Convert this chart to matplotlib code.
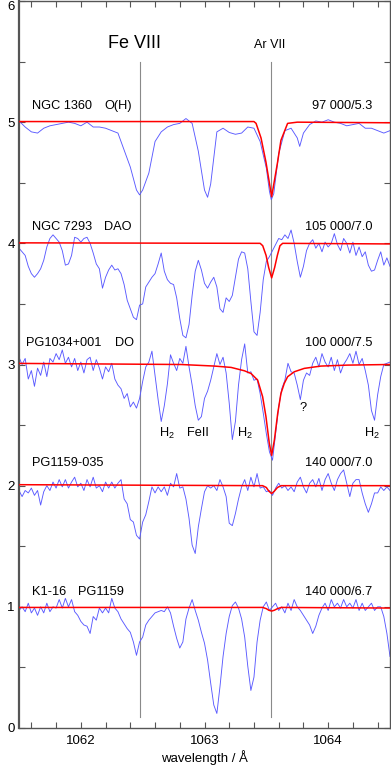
import numpy as np
import matplotlib
matplotlib.use("Agg")
import matplotlib.pyplot as plt
from matplotlib.ticker import MultipleLocator

plt.rcParams['font.family'] = ['Liberation Sans', 'DejaVu Sans']
plt.rcParams['mathtext.fontset'] = 'custom'
plt.rcParams['mathtext.rm'] = 'Liberation Sans'

# ---------------- data ----------------
fe8_wave = 1062.48
ar7_wave = 1063.54

# common sampling grid of the observed spectra (0.025 A)
wave = np.round(1061.5 + 0.025 * np.arange(121), 4)

# NGC 1360 (offset 4)
wave1360 = [1061.50, 1061.55, 1061.60, 1061.65, 1061.70, 1061.75, 1061.80, 1061.85, 1061.90, 1061.95,
            1062.00, 1062.05, 1062.10, 1062.15, 1062.20, 1062.25, 1062.30, 1062.35, 1062.40, 1062.45,
            1062.475,
            1062.50, 1062.55, 1062.60, 1062.65, 1062.70, 1062.75, 1062.80, 1062.85, 1062.90, 1062.95, 1063.00,
            1063.025,
            1063.05, 1063.10, 1063.15, 1063.20, 1063.25, 1063.30, 1063.35, 1063.40, 1063.45, 1063.50,
            1063.525, 1063.54, 1063.56,
            1063.60, 1063.65, 1063.70, 1063.75,
            1063.77,
            1063.80, 1063.85, 1063.90, 1063.95, 1064.00, 1064.05, 1064.10, 1064.15, 1064.20, 1064.25,
            1064.30, 1064.35, 1064.40, 1064.45, 1064.50]
flux1360 = [1.01, 0.96, 0.92, 0.91, 0.95, 0.97, 0.98, 0.99, 1.00, 0.99,
            0.97, 1.00, 0.96, 0.96, 0.95, 0.93, 0.91, 0.77, 0.63, 0.44,
            0.40,
            0.44, 0.58, 0.84, 0.92, 0.96, 0.98, 0.99, 1.03, 0.99, 0.76, 0.44,
            0.38,
            0.49, 0.92, 0.95, 0.915, 0.90, 0.91, 0.96, 0.95, 0.84, 0.62,
            0.43, 0.36, 0.41,
            0.74, 0.93, 0.95, 0.87,
            0.80,
            0.91, 0.98, 1.01, 1.00, 1.02, 1.00, 0.99, 0.97, 0.98, 0.99,
            0.95, 0.95, 0.93, 0.91, 0.93]

flux7293 = [0.96, 0.93, 0.90, 0.81, 0.75, 0.72, 0.75, 0.79, 0.86, 0.97,
            1.04, 1.07, 1.04, 1.01, 0.94, 0.82, 0.83, 0.90, 1.05, 1.04,
            1.01, 1.04, 1.05, 1.00, 0.92, 0.83, 0.79, 0.63, 0.72, 0.78,
            0.82, 0.78, 0.79, 0.75, 0.66, 0.53, 0.46, 0.39, 0.37, 0.49,
            0.50, 0.64, 0.68, 0.72, 0.75, 0.83, 0.92, 0.77, 0.70, 0.67,
            0.66, 0.55, 0.38, 0.24, 0.22, 0.33, 0.57, 0.77, 0.86, 0.78,
            0.67, 0.63, 0.68, 0.72, 0.64, 0.46, 0.43, 0.55, 0.52, 0.57,
            0.72, 0.87, 0.93, 0.92, 0.79, 0.52, 0.27, 0.24, 0.43, 0.70,
            0.85, 0.89, 0.94, 0.99, 1.04, 1.03, 1.07, 1.04, 1.11, 1.00,
            0.85, 0.72, 0.81, 0.94, 1.00, 1.03, 0.96, 1.00, 0.93, 1.01,
            0.97, 1.00, 1.08, 0.99, 0.94, 1.04, 1.00, 0.92, 1.01, 0.90,
            0.97, 0.89, 0.93, 0.82, 0.77, 0.78, 0.86, 0.93, 0.82, 0.88, 0.81]

flux1034 = [1.06, 1.00, 1.05, 0.88, 0.95, 0.82, 0.97, 0.91, 1.02, 0.90,
            1.05, 1.02, 1.09, 1.04, 1.12, 1.01, 1.06, 0.98, 1.05, 0.95,
            1.02, 0.93, 1.04, 1.06, 0.95, 1.04, 0.97, 0.88, 0.98, 0.94,
            1.01, 0.88, 0.83, 0.80, 0.72, 0.76, 0.65, 0.69, 0.64, 0.72,
            0.86, 0.98, 1.02, 1.11, 0.91, 0.71, 0.53, 0.66, 0.84, 1.08,
            1.01, 0.95, 1.05, 1.01, 1.15, 0.98, 0.83, 0.66, 0.54, 0.57,
            0.72, 0.78, 0.87, 0.98, 1.09, 1.00, 1.06, 0.93, 0.68, 0.38,
            0.53, 0.83, 1.04, 1.17, 0.93, 0.94, 0.87, 0.88, 0.76, 0.60,
            0.43, 0.28, 0.21, 0.43, 0.65, 0.80, 0.87, 1.01, 0.94, 0.93,
            0.83, 0.71, 0.87, 0.93, 0.91, 1.01, 1.06, 0.98, 1.09, 1.02,
            0.98, 1.06, 0.95, 1.04, 0.93, 1.00, 1.04, 1.09, 1.01, 1.11,
            1.00, 1.05, 0.95, 0.83, 0.62, 0.54, 0.75, 0.90, 1.00, 1.01, 1.02]

flux1159 = [0.96, 0.91, 0.96, 0.94, 0.98, 0.92, 0.96, 0.84, 0.95, 1.00,
            0.96, 1.03, 0.98, 1.05, 0.99, 1.05, 0.98, 1.03, 1.07, 0.99,
            1.02, 0.96, 1.05, 0.99, 1.07, 0.98, 1.00, 0.95, 1.03, 0.98,
            1.03, 0.98, 1.02, 1.05, 0.89, 0.85, 0.72, 0.70, 0.59, 0.56,
            0.70, 0.76, 0.87, 0.99, 0.94, 0.99, 0.95, 0.99, 0.92, 1.02,
            0.99, 1.10, 0.98, 0.99, 0.89, 0.73, 0.51, 0.44, 0.66, 0.81,
            0.95, 1.00, 0.98, 1.00, 0.96, 1.05, 0.99, 0.91, 0.69, 0.67,
            0.77, 0.89, 0.99, 1.05, 0.96, 1.07, 0.99, 1.10, 0.98, 0.99,
            0.95, 0.96, 0.92, 0.98, 1.02, 0.98, 1.00, 0.96, 0.99, 0.95,
            1.03, 1.07, 0.99, 0.94, 1.02, 1.05, 0.99, 1.06, 0.96, 1.05,
            1.10, 1.02, 0.96, 1.05, 1.10, 1.13, 1.02, 0.91, 1.02, 1.05,
            1.05, 0.94, 0.85, 0.78, 0.85, 0.94, 0.94, 0.99, 0.96, 0.99, 0.96]

flux116 = [0.97, 1.00, 0.96, 1.03, 0.95, 0.99, 0.93, 1.00, 0.95, 1.03,
           0.96, 1.00, 0.99, 1.06, 0.99, 1.07, 1.00, 1.06, 0.96, 0.93,
           0.88, 0.85, 0.84, 0.78, 0.92, 0.89, 0.99, 0.95, 0.99, 0.95,
           1.07, 0.99, 0.96, 0.90, 0.86, 0.82, 0.79, 0.71, 0.60, 0.71,
           0.75, 0.85, 0.89, 0.92, 0.95, 0.96, 0.97, 0.96, 1.00, 0.95,
           0.84, 0.74, 0.66, 0.71, 0.90, 0.99, 1.06, 0.97, 0.89, 0.79,
           0.70, 0.56, 0.37, 0.19, 0.12, 0.34, 0.59, 0.78, 0.92, 1.01,
           1.04, 0.99, 0.90, 0.75, 0.51, 0.31, 0.42, 0.71, 0.89, 1.00,
           1.04, 0.97, 1.00, 1.03, 0.97, 1.00, 0.95, 1.03, 0.97, 1.06,
           1.00, 0.97, 0.93, 0.89, 0.85, 0.78, 0.84, 0.93, 0.99, 1.03,
           0.97, 1.06, 1.00, 1.03, 0.99, 1.06, 1.00, 1.03, 0.99, 1.06,
           0.97, 1.03, 0.97, 1.00, 1.03, 0.97, 1.00, 1.00, 0.92, 0.78, 0.59]

# model spectra (Ar VII 1063.54)
mwave1360 = [1061.50, 1063.40, 1063.417, 1063.457, 1063.497, 1063.543, 1063.591, 1063.618, 1063.672, 1063.75, 1064.50]
mflux1360 = [1.005, 1.005, 0.99, 0.87, 0.67, 0.385, 0.67, 0.85, 0.99, 1.0, 0.995]

mwave7293 = [1061.50, 1063.45, 1063.471, 1063.498, 1063.519, 1063.543, 1063.567, 1063.589, 1063.610, 1063.632, 1064.50]
mflux7293 = [1.004, 1.0, 0.98, 0.90, 0.80, 0.715, 0.80, 0.90, 0.98, 1.0, 0.995]

mwave1034 = [1061.50, 1062.81, 1063.081, 1063.215, 1063.323, 1063.376, 1063.43, 1063.47, 1063.497, 1063.524,
             1063.543, 1063.565, 1063.592, 1063.618, 1063.645, 1063.672, 1063.726, 1063.807, 1063.941, 1064.156, 1064.50]
mflux1034 = [1.009, 1.0, 0.987, 0.976, 0.948, 0.926, 0.871, 0.734, 0.569, 0.349,
             0.25, 0.376, 0.596, 0.761, 0.844, 0.899, 0.940, 0.968, 0.987, 0.995, 1.0]

mwave1159 = [1061.50, 1063.47, 1063.50, 1063.52, 1063.543, 1063.565, 1063.59, 1063.62, 1064.50]
mflux1159 = [1.008, 1.0, 0.985, 0.955, 0.935, 0.955, 0.985, 1.0, 1.0]

mwave116 = [1061.50, 1063.47, 1063.50, 1063.52, 1063.543, 1063.565, 1063.59, 1063.62, 1064.50]
mflux116 = [0.995, 0.995, 0.985, 0.972, 0.965, 0.972, 0.985, 0.995, 0.99]

offsets = [4, 3, 2, 1, 0]
names_left = ["NGC 1360", "NGC 7293", "PG1034+001", "PG1159-035", "K1-16"]
types = ["O(H)", "DAO", "DO", "", "PG1159"]
params = ["97 000/5.3", "105 000/7.0", "100 000/7.5", "140 000/7.0", "140 000/6.7"]

# ---------------- figure ----------------
W, H = 391, 766
fig = plt.figure(figsize=(W / 100, H / 100), dpi=100)
ax = fig.add_axes([19 / W, 1 - 728 / H, 371 / W, 727 / H])
ax.set_xlim(1061.5, 1064.5)
ax.set_ylim(0, 6)

grey = '#8a8a8a'
ax.plot([fe8_wave, fe8_wave], [0.09, 5.5], color=grey, lw=0.8, zorder=1)
ax.plot([ar7_wave, ar7_wave], [0.09, 5.5], color=grey, lw=0.8, zorder=1)

blue = '#5a5aff'
obs = [(wave1360, flux1360), (wave, flux7293), (wave, flux1034), (wave, flux1159), (wave, flux116)]
mod = [(mwave1360, mflux1360), (mwave7293, mflux7293), (mwave1034, mflux1034),
       (mwave1159, mflux1159), (mwave116, mflux116)]
for (w, f), (mw, mf), off in zip(obs, mod, offsets):
    ax.plot(w, np.array(f) + off, color=blue, lw=0.65, zorder=2)
    ax.plot(mw, np.array(mf) + off, color='#ff0000', lw=1.1, zorder=3)

fs = 9.2
name_x = [1061.605, 1061.605, 1061.557, 1061.605, 1061.605]
type_x = [1062.187, 1062.187, 1062.276, None, 1061.977]
label_y = [5.13, 4.135, 3.177, 2.187, 1.122]
for i in range(5):
    ax.text(name_x[i], label_y[i], names_left[i], ha='left', va='center', fontsize=fs)
    if types[i]:
        ax.text(type_x[i], label_y[i], types[i], ha='left', va='center', fontsize=fs)
    ax.text(1064.36, label_y[i], params[i], ha='right', va='center', fontsize=fs)

ax.text(1062.438, 5.653, "Fe VIII", ha='center', va='center', fontsize=13)
ax.text(1063.530, 5.637, "Ar VII", ha='center', va='center', fontsize=9)

h2 = r"H$\mathregular{_2}$"
ax.text(1062.70, 2.435, h2, ha='center', va='center', fontsize=fs)
ax.text(1062.943, 2.435, "FeII", ha='center', va='center', fontsize=fs)
ax.text(1063.33, 2.435, h2, ha='center', va='center', fontsize=fs)
ax.text(1063.796, 2.64, "?", ha='center', va='center', fontsize=fs)
ax.text(1064.356, 2.435, h2, ha='center', va='center', fontsize=fs)

# axes styling
ax.set_xticks([1062, 1063, 1064])
ax.set_yticks([0, 1, 2, 3, 4, 5, 6])
ax.xaxis.set_minor_locator(MultipleLocator(0.2))
ax.yaxis.set_minor_locator(MultipleLocator(0.5))
ax.tick_params(which='both', direction='in', top=True, right=True, length=4, width=0.8,
               color='#555555', labelsize=9.5)
ax.tick_params(axis='x', which='major', pad=5)
ax.tick_params(axis='y', which='major', pad=3)
for s in ax.spines.values():
    s.set_color('#555555')
    s.set_linewidth(1.0)
ax.spines['left'].set_linewidth(1.6)
ax.set_xlabel("wavelength / Å", fontsize=9.5, labelpad=2)

fig.canvas.draw()
ylabels = ax.get_yticklabels()
ylabels[-1].set_va('top')

fig.savefig("out.png", dpi=100)
